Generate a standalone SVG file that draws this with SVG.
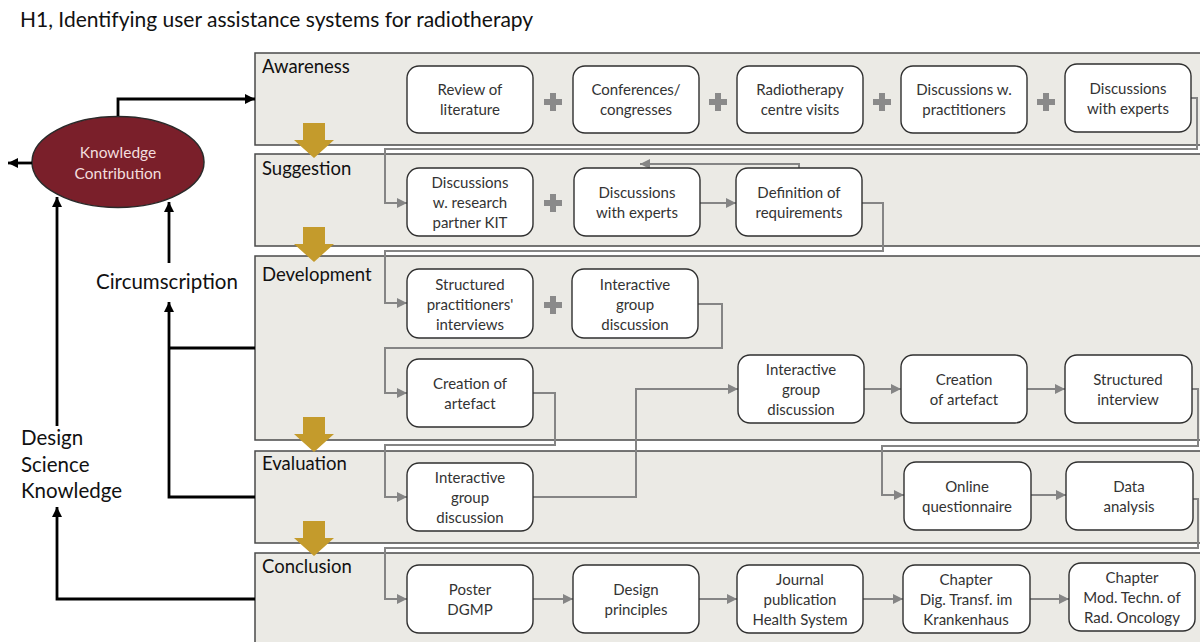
<svg xmlns="http://www.w3.org/2000/svg" width="1200" height="642" viewBox="0 0 1200 642">
  <defs>
    <marker id="ga" viewBox="0 0 10 10" refX="10" refY="5" markerWidth="5" markerHeight="5" orient="auto" markerUnits="strokeWidth">
      <path d="M0,0 L10,5 L0,10 z" fill="#858585"/>
    </marker>
    <marker id="ba" viewBox="0 0 10 10" refX="10" refY="5" markerWidth="3.6" markerHeight="3.6" orient="auto" markerUnits="strokeWidth">
      <path d="M0,0 L10,5 L0,10 z" fill="#000"/>
    </marker>
    <path id="plus" d="M-3,-9 h6 v6 h6 v6 h-6 v6 h-6 v-6 h-6 v-6 h6 z" fill="#8a8a8a"/>
  </defs>
  <style>
    .band { fill: #ebeae5; stroke: #4a4a4a; stroke-width: 1.5; }
    .blabel { font-family: Lato, "Liberation Sans", sans-serif; font-size: 18.5px; fill: #111; }
    .node rect { fill: #fff; stroke: #2f2f2f; stroke-width: 1.4; }
    .node text { font-family: Lato, "Liberation Sans", sans-serif; font-size: 15px; fill: #333; text-anchor: middle; }
    .flow { fill: none; stroke: #858585; stroke-width: 2; marker-end: url(#ga); }
    .flow.plain { marker-end: none; }
    .bk { fill: none; stroke: #000; stroke-width: 2.8; marker-end: url(#ba); }
    .bk.plain { marker-end: none; }
    .side { font-family: Lato, "Liberation Sans", sans-serif; font-size: 20.5px; fill: #111; }
    .gold { fill: #c49b2c; }
  </style>

  <rect width="1200" height="642" fill="#fff"/>

  <text x="20" y="27" font-family="Lato, 'Liberation Sans', sans-serif" font-size="21" fill="#111">H1, Identifying user assistance systems for radiotherapy</text>

  <!-- phase bands -->
  <g id="bands">
    <rect class="band" x="255" y="53" width="960" height="92"/>
    <rect class="band" x="255" y="154" width="960" height="92"/>
    <rect class="band" x="255" y="256" width="960" height="184"/>
    <rect class="band" x="255" y="451" width="960" height="92"/>
    <rect class="band" x="255" y="553" width="960" height="100"/>
    <text class="blabel" x="262" y="73">Awareness</text>
    <text class="blabel" x="262" y="175">Suggestion</text>
    <text class="blabel" x="262" y="281">Development</text>
    <text class="blabel" x="262" y="470">Evaluation</text>
    <text class="blabel" x="262" y="573">Conclusion</text>
  </g>

  <!-- knowledge contribution loop on the left -->
  <g id="knowledge-contribution">
    <ellipse cx="118" cy="162" rx="86" ry="45.5" fill="#7a1f2a" stroke="#2a2a2a" stroke-width="1.5"/>
    <text x="118" y="158" font-family="Lato, 'Liberation Sans', sans-serif" font-size="15.5" fill="#f3dede" text-anchor="middle">Knowledge</text>
    <text x="118" y="179" font-family="Lato, 'Liberation Sans', sans-serif" font-size="15.5" fill="#f3dede" text-anchor="middle">Contribution</text>
  </g>
  <g id="circumscription">
    <text class="side" x="96" y="289">Circumscription</text>
  </g>
  <g id="design-science-knowledge">
    <text class="side" x="21" y="445">Design</text>
    <text class="side" x="21" y="472">Science</text>
    <text class="side" x="21" y="498">Knowledge</text>
  </g>

  <!-- connectors -->
  <g id="connectors">
    <!-- black feedback arrows -->
    <path class="bk" d="M118,116 V99 H255"/>
    <path class="bk" d="M32,163 H8"/>
    <path class="bk" d="M169,263 V202"/>
    <path class="bk" d="M57,426 V197"/>
    <path class="bk plain" d="M255,348 H169"/>
    <path class="bk" d="M255,497 H169 V302"/>
    <path class="bk" d="M255,599 H57 V507"/>

    <!-- awareness to suggestion -->
    <path class="flow" d="M1191,98 H1197 V149 H385 V203 H407"/>
    <!-- suggestion row -->
    <path class="flow" d="M700,203 H736"/>
    <path class="flow" d="M799,168 V164 H640"/>
    <path class="flow" d="M862,203 H883 V251 H385 V303 H407"/>
    <!-- development -->
    <path class="flow" d="M698,304 H722 V348 H385 V393 H407"/>
    <path class="flow" d="M533,393 H555 V445 H385 V497 H407"/>
    <path class="flow" d="M533,497 H636 V389 H738"/>
    <path class="flow" d="M864,389 H901"/>
    <path class="flow" d="M1027,389 H1065"/>
    <path class="flow" d="M1192,389 H1198 V446 H882 V495 H904"/>
    <!-- evaluation -->
    <path class="flow" d="M1031,495 H1066"/>
    <path class="flow" d="M1193,499 H1198 V548 H385 V599 H407"/>
    <!-- conclusion -->
    <path class="flow" d="M533,599 H573"/>
    <path class="flow" d="M699,599 H737"/>
    <path class="flow" d="M863,599 H903"/>
    <path class="flow" d="M1030,599 H1069"/>
  </g>

  <!-- plus signs -->
  <g id="plus-signs">
    <use href="#plus" x="553" y="102"/>
    <use href="#plus" x="718" y="102"/>
    <use href="#plus" x="882" y="102"/>
    <use href="#plus" x="1046" y="102"/>
    <use href="#plus" x="553" y="203"/>
    <use href="#plus" x="553" y="305"/>
  </g>

  <!-- awareness -->
  <g id="n-review" class="node"><rect x="407" y="66" width="126" height="67" rx="12"/>
    <text x="470" y="95">Review of</text><text x="470" y="115">literature</text></g>
  <g id="n-conferences" class="node"><rect x="573" y="66" width="126" height="67" rx="12"/>
    <text x="636" y="95">Conferences/</text><text x="636" y="115">congresses</text></g>
  <g id="n-centre-visits" class="node"><rect x="737" y="66" width="126" height="67" rx="12"/>
    <text x="800" y="95">Radiotherapy</text><text x="800" y="115">centre visits</text></g>
  <g id="n-practitioners" class="node"><rect x="901" y="66" width="126" height="67" rx="12"/>
    <text x="964" y="95">Discussions w.</text><text x="964" y="115">practitioners</text></g>
  <g id="n-experts-a" class="node"><rect x="1065" y="64" width="126" height="68" rx="12"/>
    <text x="1128" y="94">Discussions</text><text x="1128" y="114">with experts</text></g>

  <!-- suggestion -->
  <g id="n-kit" class="node"><rect x="407" y="168" width="126" height="68" rx="12"/>
    <text x="470" y="188">Discussions</text><text x="470" y="208">w. research</text><text x="470" y="228">partner KIT</text></g>
  <g id="n-experts-s" class="node"><rect x="574" y="168" width="126" height="68" rx="12"/>
    <text x="637" y="198">Discussions</text><text x="637" y="218">with experts</text></g>
  <g id="n-requirements" class="node"><rect x="736" y="168" width="126" height="68" rx="12"/>
    <text x="799" y="198">Definition of</text><text x="799" y="218">requirements</text></g>

  <!-- development -->
  <g id="n-interviews" class="node"><rect x="407" y="269" width="126" height="69" rx="12"/>
    <text x="470" y="290">Structured</text><text x="470" y="310">practitioners'</text><text x="470" y="330">interviews</text></g>
  <g id="n-group-d1" class="node"><rect x="572" y="269" width="126" height="69" rx="12"/>
    <text x="635" y="290">Interactive</text><text x="635" y="310">group</text><text x="635" y="330">discussion</text></g>
  <g id="n-artefact-1" class="node"><rect x="407" y="359" width="126" height="68" rx="12"/>
    <text x="470" y="389">Creation of</text><text x="470" y="409">artefact</text></g>
  <g id="n-group-d2" class="node"><rect x="738" y="355" width="126" height="68" rx="12"/>
    <text x="801" y="375">Interactive</text><text x="801" y="395">group</text><text x="801" y="415">discussion</text></g>
  <g id="n-artefact-2" class="node"><rect x="901" y="355" width="126" height="68" rx="12"/>
    <text x="964" y="385">Creation</text><text x="964" y="405">of artefact</text></g>
  <g id="n-structured-interview" class="node"><rect x="1065" y="355" width="127" height="68" rx="12"/>
    <text x="1128" y="385">Structured</text><text x="1128" y="405">interview</text></g>

  <!-- evaluation -->
  <g id="n-group-e" class="node"><rect x="407" y="463" width="126" height="68" rx="12"/>
    <text x="470" y="483">Interactive</text><text x="470" y="503">group</text><text x="470" y="523">discussion</text></g>
  <g id="n-questionnaire" class="node"><rect x="904" y="462" width="127" height="68" rx="12"/>
    <text x="967" y="492">Online</text><text x="967" y="512">questionnaire</text></g>
  <g id="n-analysis" class="node"><rect x="1066" y="462" width="127" height="68" rx="12"/>
    <text x="1129" y="492">Data</text><text x="1129" y="512">analysis</text></g>

  <!-- conclusion -->
  <g id="n-poster" class="node"><rect x="407" y="565" width="126" height="68" rx="12"/>
    <text x="470" y="595">Poster</text><text x="470" y="615">DGMP</text></g>
  <g id="n-principles" class="node"><rect x="573" y="565" width="126" height="68" rx="12"/>
    <text x="636" y="595">Design</text><text x="636" y="615">principles</text></g>
  <g id="n-journal" class="node"><rect x="737" y="565" width="126" height="68" rx="12"/>
    <text x="800" y="585">Journal</text><text x="800" y="605">publication</text><text x="800" y="625">Health System</text></g>
  <g id="n-chapter-dt" class="node"><rect x="903" y="565" width="127" height="68" rx="12"/>
    <text x="966" y="585">Chapter</text><text x="966" y="605">Dig. Transf. im</text><text x="966" y="625">Krankenhaus</text></g>
  <g id="n-chapter-mt" class="node"><rect x="1069" y="563" width="126" height="68" rx="12"/>
    <text x="1132" y="583">Chapter</text><text x="1132" y="603">Mod. Techn. of</text><text x="1132" y="623">Rad. Oncology</text></g>

  <!-- phase transition arrows -->
  <g id="phase-arrows" class="gold">
    <polygon points="303,123 325,123 325,140 334,140 314,158 294,140 303,140"/>
    <polygon points="303,227 325,227 325,244 334,244 314,262 294,244 303,244"/>
    <polygon points="303,417 325,417 325,434 334,434 314,452 294,434 303,434"/>
    <polygon points="303,521 325,521 325,538 334,538 314,556 294,538 303,538"/>
  </g>
</svg>
